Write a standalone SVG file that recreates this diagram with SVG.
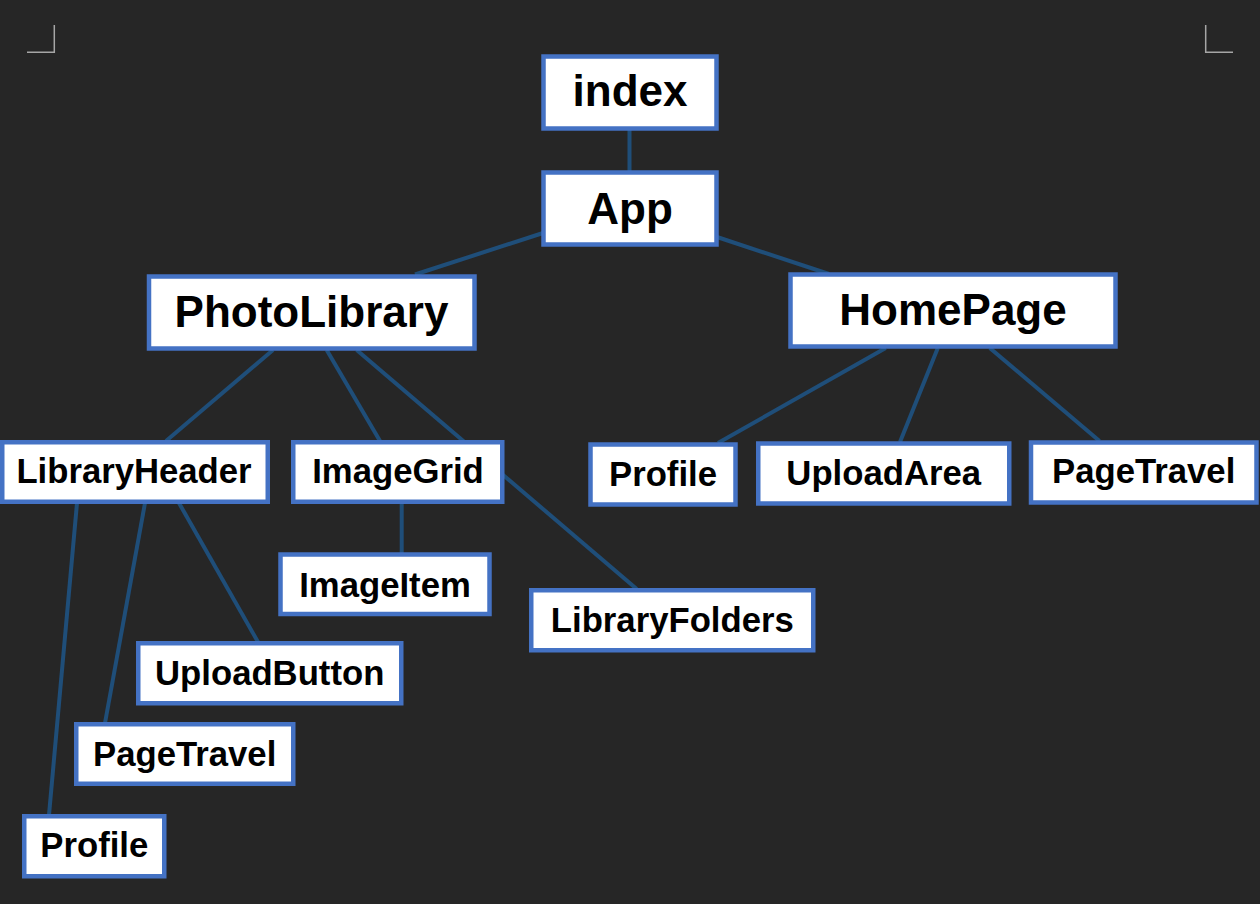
<svg xmlns="http://www.w3.org/2000/svg" width="1260" height="904" viewBox="0 0 1260 904">
<style>
.bg{fill:#262626}
.crop{fill:none;stroke:#a6a6a6;stroke-width:1.5}
.edge{stroke:#1f4e79;stroke-width:4;fill:none}
.box{fill:#ffffff;stroke:#4472c4;stroke-width:4.5}
.t1{font-family:"Liberation Sans",Arial,sans-serif;font-weight:bold;font-size:44px;fill:#000;text-anchor:middle}
.t2{font-family:"Liberation Sans",Arial,sans-serif;font-weight:bold;font-size:34.7px;fill:#000;text-anchor:middle}
</style>
<rect class="bg" x="0" y="0" width="1260" height="904"/>
<polyline class="crop" points="27,52.3 54.3,52.3 54.3,25"/>
<polyline class="crop" points="1205.7,25 1205.7,52.3 1233,52.3"/>
<g id="connectors">
<line class="edge" x1="629.5" y1="128" x2="629.5" y2="173"/>
<line class="edge" x1="543" y1="233" x2="415" y2="274.5"/>
<line class="edge" x1="717" y1="237" x2="829" y2="274"/>
<line class="edge" x1="273" y1="350" x2="166" y2="441"/>
<line class="edge" x1="326.7" y1="350" x2="380" y2="441"/>
<line class="edge" x1="356.7" y1="350" x2="636.7" y2="589"/>
<line class="edge" x1="401.7" y1="503" x2="401.7" y2="553"/>
<line class="edge" x1="77" y1="503" x2="49" y2="815"/>
<line class="edge" x1="145" y1="503" x2="105" y2="723"/>
<line class="edge" x1="179" y1="503" x2="258" y2="642"/>
<line class="edge" x1="885.7" y1="348" x2="718" y2="443"/>
<line class="edge" x1="937.8" y1="348" x2="900" y2="442"/>
<line class="edge" x1="989.8" y1="348" x2="1099.5" y2="441"/>
</g>
<g id="node-index"><rect class="box" x="543.5" y="56.5" width="173" height="72"/><text class="t1" x="630" y="105.7">index</text></g>
<g id="node-App"><rect class="box" x="543.5" y="172.5" width="173" height="72"/><text class="t1" x="630" y="224">App</text></g>
<g id="node-PhotoLibrary"><rect class="box" x="149" y="276.5" width="325.5" height="72"/><text class="t1" x="311.5" y="326.7">PhotoLibrary</text></g>
<g id="node-HomePage"><rect class="box" x="790.5" y="274.5" width="325" height="72"/><text class="t1" x="953" y="325">HomePage</text></g>
<g id="node-LibraryHeader"><rect class="box" x="2.25" y="442.25" width="265.5" height="59.5"/><text class="t2" x="134" y="483.3">LibraryHeader</text></g>
<g id="node-ImageGrid"><rect class="box" x="293.25" y="442.25" width="209" height="59.5"/><text class="t2" x="398" y="483.3">ImageGrid</text></g>
<g id="node-ImageItem"><rect class="box" x="280.5" y="554.5" width="209" height="59.5"/><text class="t2" x="385" y="596.7">ImageItem</text></g>
<g id="node-LibraryFolders"><rect class="box" x="531.25" y="590.25" width="282" height="60"/><text class="t2" x="672.3" y="631.7">LibraryFolders</text></g>
<g id="node-Profile-home"><rect class="box" x="590.5" y="444.5" width="145" height="60"/><text class="t2" x="663" y="486">Profile</text></g>
<g id="node-UploadArea"><rect class="box" x="758.25" y="443.5" width="251" height="60"/><text class="t2" x="883.7" y="485">UploadArea</text></g>
<g id="node-PageTravel-home"><rect class="box" x="1031" y="442.5" width="225.5" height="60"/><text class="t2" x="1143.7" y="483.3">PageTravel</text></g>
<g id="node-UploadButton"><rect class="box" x="138.25" y="643.25" width="263" height="60"/><text class="t2" x="269.7" y="685">UploadButton</text></g>
<g id="node-PageTravel-lib"><rect class="box" x="76.25" y="724.25" width="217" height="59.5"/><text class="t2" x="184.7" y="765.7">PageTravel</text></g>
<g id="node-Profile-lib"><rect class="box" x="24.25" y="816.25" width="140" height="60"/><text class="t2" x="94.3" y="857.3">Profile</text></g>
</svg>
